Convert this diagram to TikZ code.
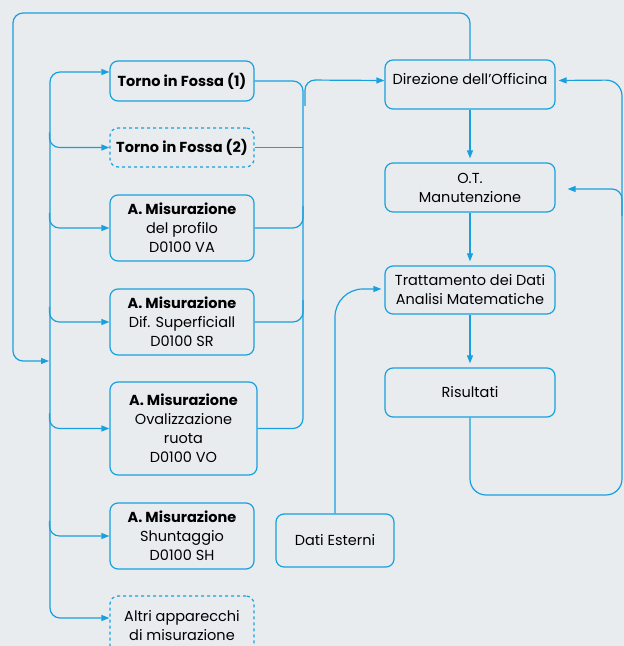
\documentclass[tikz,border=0pt]{standalone}
\usepackage{fontspec}
\setmainfont{Poppins}
\usetikzlibrary{arrows.meta, calc}
\definecolor{blu}{RGB}{24,160,222}
\definecolor{fondo}{RGB}{233,236,239}

\begin{document}
\begin{tikzpicture}[x = 1pt, y = 1pt, line width = 1.2pt,
                        box/.style = {draw = blu, rounded corners = 8pt, align = center, inner sep = 0pt,
                                      font = \fontsize{14.5}{19}\selectfont},
                        dbox/.style = {box, dash pattern = on 3pt off 3pt},
                        line/.style = {draw = blu, rounded corners = 10pt},
                        arr/.style = {line, -{Triangle[length = 8pt, width = 6pt]}}]
      \fill [fondo] (0, 0) rectangle (624, 646);
      \clip (0, 0) rectangle (624, 646);

      % colonna sinistra
      \node [box, minimum width = 144, minimum height = 40] (t1) at (182, 565){\textbf{Torno in Fossa (1)}};
      \node [dbox, minimum width = 144, minimum height = 39] (t2) at (182, 498.5){\textbf{Torno in Fossa (2)}};
      \node [box, minimum width = 144, minimum height = 66] (prof) at (182, 418){\textbf{A. Misurazione}\\del profilo\\D0100 VA};
      \node [box, minimum width = 144, minimum height = 66] (sr) at (182, 324){\textbf{A. Misurazione}\\Dif. Superficiall\\D0100 SR};
      \node [box, minimum width = 147, minimum height = 93] (vo) at (183.5, 217.5){\textbf{A. Misurazione}\\Ovalizzazione\\ruota\\D0100 VO};
      \node [box, minimum width = 144, minimum height = 66] (sh) at (182, 110){\textbf{A. Misurazione}\\Shuntaggio\\D0100 SH};
      \node [dbox, minimum width = 144, minimum height = 60] (altri) at (182, 20){Altri apparecchi\\di misurazione};

      % colonna destra
      \node [box, minimum width = 170, minimum height = 49] (dir) at (470, 561.5){\raisebox{0pt}[0pt][0pt]{Direzione dell'Officina}};
      \node [box, minimum width = 170, minimum height = 49] (ot) at (470, 458.5){O.T.\\Manutenzione};
      \node [box, minimum width = 170, minimum height = 48] (tratt) at (470, 356){Trattamento dei Dati\\Analisi Matematiche};
      \node [box, minimum width = 170, minimum height = 49] (ris) at (470, 253.5){Risultati};
      \node [box, minimum width = 118, minimum height = 53] (dati) at (335, 105.5){Dati Esterni};

      \coordinate (ing) at (49, 285);

      % anello esterno
      \draw [arr] (dir.north) -- (470, 633) -- (13, 633) -- (13, 285) -- (ing);

      % bus sinistro
      \draw [arr] (50, 300) -- (50, 574) -- ([yshift = 9pt]t1.west);
      \draw [arr] (50, 300) -- (50, 28) -- ([yshift = 8pt]altri.west);
      \foreach \n in {t2, prof, sr, vo, sh}
        \draw [arr] ($(\n.west) + (-60, 15)$) -- ($(\n.west) + (-60, 0)$) -- (\n.west);

      % bus destro
      \draw [line] (t1.east) -- (303, 565) -- (303, 217.5) -- (vo.east);
      \draw [line] (t2.east) -- (303, 498.5);
      \draw [line] (prof.east) -- (303, 418) -- (303, 440);
      \draw [line] (sr.east) -- (303, 324) -- (303, 346);
      \draw [arr] (305, 540) -- (305, 566) -- ([yshift = 4pt]dir.west);

      \draw [arr, shorten > = 4pt] (dir.south) -- (ot.north);
      \draw [arr, shorten > = 4pt] (ot.south) -- (tratt.north);
      \draw [arr, shorten > = 4pt] (tratt.south) -- (ris.north);

      \draw [arr, rounded corners = 16pt, shorten > = 3pt] (ris.south) -- (470, 151) -- (622, 151) -- (622, 566) -- ([yshift = 4pt]dir.east);
      \draw [arr, shorten > = 12pt] (622, 430) -- (622, 457) -- ([yshift = -1.5pt]ot.east);
      \draw [arr, rounded corners = 28pt, shorten > = 3pt] (dati.north) -- (335, 357) -- ([yshift = 1pt]tratt.west);
\end{tikzpicture}
\end{document}
